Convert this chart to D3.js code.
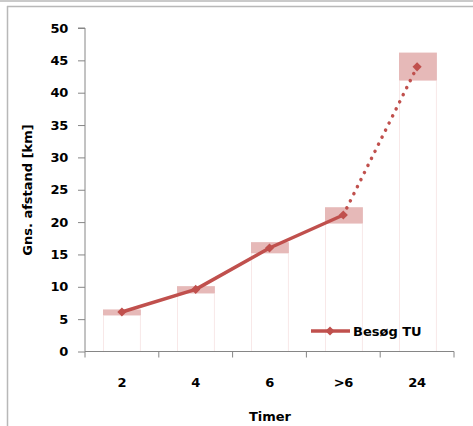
<!DOCTYPE html>
<html><head><meta charset="utf-8">
<script src="https://cdn.jsdelivr.net/npm/d3@7"></script>
<style>body{margin:0;background:#fff}svg{display:block}text{font-family:"DejaVu Sans",sans-serif;font-weight:bold;fill:#000}</style>
</head><body>
<svg id="c" width="473" height="426"></svg>
<script>
const categories = ["2","4","6",">6","24"];
const meanValues = [6.1, 9.6, 16.0, 21.1, 44.0];
const rangeLow  = [5.6, 9.0, 15.2, 19.8, 41.9];
const rangeHigh = [6.5, 10.1, 16.9, 22.3, 46.2];
const yTicks = [0,5,10,15,20,25,30,35,40,45,50];
const seriesName = "Besøg TU";

(function(){
const svg = d3.select("#c");
const FS = "13px";
// frame
svg.append("line").attr("x1",0).attr("x2",473).attr("y1",1).attr("y2",1).attr("stroke","#b8b8b8").attr("stroke-width",1.5);
svg.append("line").attr("x1",7).attr("x2",473).attr("y1",6.5).attr("y2",6.5).attr("stroke","#b8b8b8").attr("stroke-width",1.5);
svg.append("line").attr("x1",7.5).attr("x2",7.5).attr("y1",6).attr("y2",426).attr("stroke","#b8b8b8").attr("stroke-width",1.5);

const pl=85, pr=454, pt=28, pb=351.5;
const x = d3.scaleBand().domain(categories).range([pl,pr]).paddingInner(0.5).paddingOuter(0.25);
const y = d3.scaleLinear().domain([0,50]).range([pb,pt]);
const xc = d => x(d)+x.bandwidth()/2;

const g = svg.append("g");
// base bars (invisible fill, faint outline)
g.selectAll("rect.base").data(categories).join("rect").attr("class","base")
 .attr("x",d=>Math.round(x(d))+0.5).attr("width",x.bandwidth())
 .attr("y",(d,i)=>y(rangeLow[i])).attr("height",(d,i)=>y(0)-y(rangeLow[i]))
 .attr("fill","none").attr("stroke","#f8e8e8").attr("stroke-width",1);
// range boxes
g.selectAll("rect.rng").data(categories).join("rect").attr("class","rng")
 .attr("x",d=>Math.round(x(d))).attr("width",x.bandwidth()+1)
 .attr("y",(d,i)=>y(rangeHigh[i])).attr("height",(d,i)=>y(rangeLow[i])-y(rangeHigh[i]))
 .attr("fill","#e6b9b8");

// axes
const yAxis = d3.axisLeft(y).tickValues(yTicks).tickSize(7).tickPadding(10);
const ya = svg.append("g").attr("transform",`translate(${pl},0)`).call(yAxis);
ya.select(".domain").attr("stroke","#868686").attr("d",`M-7,${pt}H0V${pb}`);
ya.selectAll(".tick line").attr("stroke","#868686");
ya.selectAll("text").style("font-size",FS).style("font-family","DejaVu Sans").style("font-weight","bold").attr("fill","#000").attr("letter-spacing","-0.3");

const xTickPos = d3.range(categories.length+1).map(i=>pl+i*(pr-pl)/categories.length);
svg.append("line").attr("x1",pl).attr("x2",pr).attr("y1",pb).attr("y2",pb).attr("stroke","#868686");
svg.selectAll("line.xt").data(xTickPos).join("line").attr("class","xt")
 .attr("x1",d=>d).attr("x2",d=>d).attr("y1",pb).attr("y2",pb+6).attr("stroke","#868686");
svg.selectAll("text.xl").data(categories).join("text").attr("class","xl")
 .attr("x",d=>xc(d)).attr("y",387).attr("text-anchor","middle").style("font-size",FS).attr("letter-spacing","-0.3").text(d=>d);

// line
const pts = categories.map((c,i)=>[xc(c),y(meanValues[i])]);
const line = d3.line();
svg.append("path").attr("d",line(pts.slice(0,4))).attr("fill","none").attr("stroke","#c0504d").attr("stroke-width",3.5).attr("stroke-linejoin","round");
svg.append("path").attr("d",line(pts.slice(3))).attr("fill","none").attr("stroke","#c0504d").attr("stroke-width",3.5)
 .attr("stroke-dasharray","0.1 7.8").attr("stroke-linecap","round");
const diamond = d3.symbol().type(d3.symbolSquare).size(42);
svg.selectAll("path.mk").data(pts).join("path").attr("class","mk")
 .attr("transform",d=>`translate(${d[0]},${d[1]}) rotate(45)`).attr("d",diamond).attr("fill","#c0504d");

// titles
svg.append("text").attr("transform","translate(32,190) rotate(-90)").attr("text-anchor","middle")
 .style("font-size",FS).text("Gns. afstand [km]");
svg.append("text").attr("x",270).attr("y",421).attr("text-anchor","middle").style("font-size",FS).text("Timer");

// legend
svg.append("line").attr("x1",311).attr("x2",350).attr("y1",331).attr("y2",331).attr("stroke","#c0504d").attr("stroke-width",3.5);
svg.append("path").attr("transform","translate(330,331) rotate(45)").attr("d",diamond).attr("fill","#c0504d");
svg.append("text").attr("x",353).attr("y",336).style("font-size",FS).text(seriesName);
})();
</script>
</body></html>
